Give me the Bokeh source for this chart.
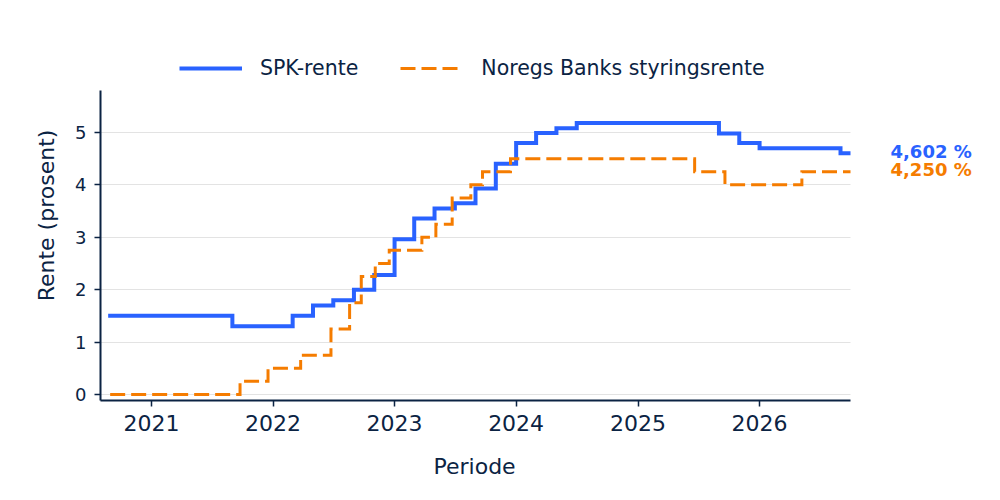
from datetime import datetime

from bokeh.embed import file_html
from bokeh.models import Range1d, FixedTicker, DatetimeTickFormatter, Legend, LegendItem, Label, Title
from bokeh.plotting import figure
from bokeh.resources import INLINE

# SPK-rente, endringsdatoer og rente (prosent); siste punkt = slutten av perioden
spk_dates = ["2020-08-24", "2021-09-01", "2022-03-01", "2022-05-01", "2022-07-01", "2022-09-01",
             "2022-11-01", "2023-01-01", "2023-03-01", "2023-05-01", "2023-07-01", "2023-09-01",
             "2023-11-01", "2024-01-01", "2024-03-01", "2024-05-01", "2024-07-01", "2025-09-01",
             "2025-11-01", "2026-01-01", "2026-09-01", "2026-10-01"]
spk_rates = [1.5, 1.3, 1.5, 1.7, 1.8, 2.0,
             2.28, 2.96, 3.36, 3.55, 3.65, 3.93,
             4.40, 4.80, 4.99, 5.08, 5.18, 4.98,
             4.80, 4.70, 4.602, 4.602]

# Norges Banks styringsrente
nb_dates = ["2020-08-30", "2021-09-24", "2021-12-17", "2022-03-25", "2022-06-24", "2022-08-19",
            "2022-09-23", "2022-11-04", "2022-12-16", "2023-03-24", "2023-05-05", "2023-06-23",
            "2023-08-18", "2023-09-22", "2023-12-15", "2025-06-20", "2025-09-19", "2026-05-08",
            "2026-10-01"]
nb_rates = [0.0, 0.25, 0.5, 0.75, 1.25, 1.75,
            2.25, 2.5, 2.75, 3.0, 3.25, 3.75,
            4.0, 4.25, 4.5, 4.25, 4.0, 4.25,
            4.25]

tick_years = [2021, 2022, 2023, 2024, 2025, 2026]
y_ticks = [0, 1, 2, 3, 4, 5]

NAVY = "#0b2343"
BLUE = "#2962ff"
ORANGE = "#f57c00"
FONT = "DejaVu Sans"


def to_dt(s: str) -> datetime:
    return datetime.strptime(s, "%Y-%m-%d")


def to_ms(d: datetime) -> float:
    return (d - datetime(1970, 1, 1)).total_seconds() * 1000


spk_x = [to_dt(d) for d in spk_dates]
nb_x = [to_dt(d) for d in nb_dates]

# aksen går fra aug. 2020 til okt. 2026; plass til verdietikettene til høyre
x_start = to_ms(datetime(2020, 8, 1))
x_end = to_ms(datetime(2026, 10, 1))
x_extra = (x_end - x_start) * 140 / 750
y_bottom, y_top = -0.115, 5.8
y_extra = (y_top - y_bottom) * 60 / 310

p = figure(frame_width=890, frame_height=370, x_axis_type="datetime",
           x_range=Range1d(x_start, x_end + x_extra),
           y_range=Range1d(y_bottom, y_top + y_extra),
           output_backend="svg", toolbar_location=None,
           min_border_left=100, min_border_right=0, min_border_top=30, min_border_bottom=90)
p.outline_line_color = None

spk = p.step(spk_x, spk_rates, mode="after", line_color=BLUE, line_width=4, line_join="miter")
nb = p.step(nb_x, nb_rates, mode="after", line_color=ORANGE, line_width=3, line_dash="15 6",
            line_join="miter")

# akser
p.xaxis.ticker = FixedTicker(ticks=[to_ms(datetime(y, 1, 1)) for y in tick_years])
p.xaxis.formatter = DatetimeTickFormatter(years="%Y", months="%Y", days="%Y")
p.xaxis.bounds = (x_start, x_end)
p.yaxis.ticker = FixedTicker(ticks=y_ticks)
p.yaxis.bounds = (y_bottom, y_top)
for ax in (p.xaxis[0], p.yaxis[0]):
    ax.axis_line_color = NAVY
    ax.axis_line_width = 2
    ax.major_tick_line_color = NAVY
    ax.major_tick_line_width = 1.5
    ax.major_tick_out = 6
    ax.major_tick_in = 0
    ax.minor_tick_line_color = None
    ax.major_label_text_color = NAVY
    ax.major_label_text_font = FONT
    ax.axis_label_text_color = NAVY
    ax.axis_label_text_font = FONT
    ax.axis_label_text_font_style = "normal"
    ax.axis_label_text_font_size = "22px"

p.xaxis.major_label_text_font_size = "22px"
p.xaxis.major_label_standoff = 8
p.yaxis.axis_label = "Rente (prosent)"
p.yaxis.major_label_text_font_size = "18px"
p.yaxis.major_label_standoff = 8
p.yaxis.axis_label_standoff = 13

# x-aksetittel midt under selve aksen (ikke under hele rammen)
p.add_layout(Title(text="Periode", align="left", offset=333, standoff=36,
                   text_font=FONT, text_font_size="22px", text_font_style="normal",
                   text_color=NAVY), "below")

p.xgrid.grid_line_color = None
p.ygrid.grid_line_color = "#e3e3e3"
p.ygrid.grid_line_width = 1
p.ygrid.cross_bounds = (x_start, x_end)

legend = Legend(items=[LegendItem(label="SPK-rente", renderers=[spk]),
                       LegendItem(label="Noregs Banks styringsrente", renderers=[nb])],
                orientation="horizontal", location=(79, 320))
legend.border_line_color = None
legend.background_fill_alpha = 0
legend.label_text_font = FONT
legend.label_text_font_size = "20.5px"
legend.label_text_color = NAVY
legend.glyph_width = 63
legend.label_standoff = 18
legend.spacing = 42
legend.padding = 5
p.add_layout(legend)

# siste verdi til høyre for aksen
for dates, rates, color in ((spk_x, spk_rates, BLUE), (nb_x, nb_rates, ORANGE)):
    txt = f"{rates[-1]:.3f}".replace(".", ",") + " %"
    p.add_layout(Label(x=to_ms(dates[-1]), y=rates[-1], text=txt, x_offset=40, y_offset=2,
                       text_baseline="middle", text_color=color, text_font=FONT,
                       text_font_size="18px", text_font_style="bold"))

open("out.html", "w").write(file_html(p, INLINE))
